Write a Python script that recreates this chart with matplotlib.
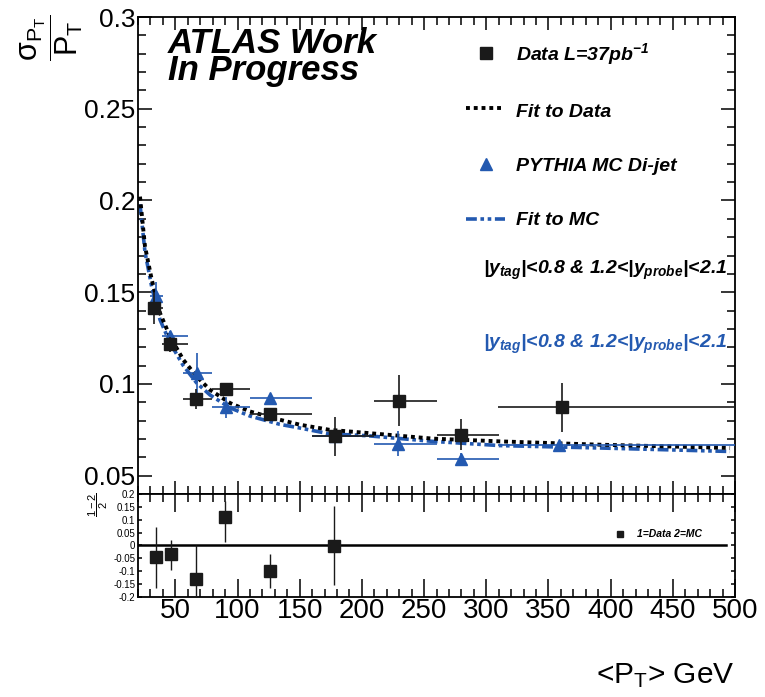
import numpy as np
import matplotlib.pyplot as plt
from matplotlib.ticker import MultipleLocator, FuncFormatter

# Resolution vs <pT>, data and PYTHIA MC
bin_lo = [30, 39.5, 56.4, 79.3, 110, 159.6, 209.7, 260, 309.7]
bin_hi = [40.3, 60.4, 79.3, 110, 159.6, 209.7, 260, 310.2, 500]

pt_data = [33, 46, 67, 90.5, 126, 178, 229.5, 280, 360.5]
sigma_data = [0.1413, 0.1217, 0.0918, 0.0970, 0.0836, 0.0714, 0.0908, 0.0723, 0.0872]
sigma_data_err = [0.0086, 0.0041, 0.0055, 0.0027, 0.002, 0.0108, 0.0139, 0.0084, 0.0135]

pt_mc = [34.5, 45.7, 67.2, 90.5, 126, 178, 228.8, 280, 358.6]
sigma_mc = [0.1477, 0.1259, 0.1059, 0.0872, 0.0923, 0.0716, 0.0674, 0.0593, 0.0669]
sigma_mc_err = [0.0078, 0.003, 0.0109, 0.0055, 0.002, 0.002, 0.0068, 0.003, 0.001]

# fitted curves
fit_x = [21.6, 25.6, 31, 37.7, 45.7, 56.4, 67.2, 77.9, 94, 110, 134, 150, 174, 204, 257, 311, 391, 496]
fit_data = [0.2021, 0.175, 0.157, 0.1386, 0.1259, 0.1132, 0.104, 0.0968, 0.0896, 0.085,
            0.0805, 0.0778, 0.075, 0.0733, 0.0702, 0.0687, 0.0669, 0.0651]
fit_mc = [0.198, 0.172, 0.153, 0.135, 0.1225, 0.110, 0.1005, 0.094, 0.087, 0.0825,
          0.078, 0.076, 0.0728, 0.0718, 0.0687, 0.0664, 0.0651, 0.0632]

# (1-2)/2 ratio panel
pt_ratio = [34.2, 46.3, 66.9, 90.2, 126.1, 177.9]
ratio = [-0.045, -0.035, -0.131, 0.110, -0.098, -0.002]
ratio_err_lo = [0.119, 0.060, 0.131, 0.096, 0.066, 0.153]
ratio_err_hi = [0.117, 0.056, 0.131, 0.062, 0.065, 0.157]

blue = '#2359b0'

plt.rcParams['font.family'] = ['Liberation Sans', 'DejaVu Sans']
plt.rcParams['mathtext.fontset'] = 'custom'
plt.rcParams['mathtext.rm'] = 'Liberation Sans:bold:italic'
plt.rcParams['mathtext.it'] = 'Liberation Sans:bold:italic'
plt.rcParams['mathtext.bf'] = 'Liberation Sans:bold'
plt.rcParams['mathtext.sf'] = 'Liberation Sans'

fig = plt.figure(figsize=(7.65, 6.97), dpi=100)
ax = fig.add_axes([0.1804, 0.2912, 0.7804, 0.6844])
ax2 = fig.add_axes([0.1804, 0.1435, 0.7804, 0.1478])

lo = np.array(bin_lo)
hi = np.array(bin_hi)

# fits
ax.plot(fit_x, fit_mc, color=blue, lw=2.6, dashes=[3, 1, 1, 1, 1, 1], zorder=2)
ax.plot(fit_x, fit_data, color='k', lw=2.8, dashes=[1, 1], zorder=2)

# points
ax.errorbar(pt_mc, sigma_mc, yerr=sigma_mc_err,
            xerr=[np.array(pt_mc) - lo, hi - np.array(pt_mc)],
            fmt='^', color=blue, ms=9, elinewidth=1.2, capsize=0, zorder=3)
ax.errorbar(pt_data, sigma_data, yerr=sigma_data_err,
            xerr=[np.array(pt_data) - lo, hi - np.array(pt_data)],
            fmt='s', color='#1a1a1a', ms=9, elinewidth=1.2, capsize=0, zorder=4)

fmt = FuncFormatter(lambda v, p: '%g' % round(v, 3))

for a in (ax, ax2):
    a.set_xlim(20, 500)
    a.xaxis.set_major_locator(MultipleLocator(50))
    a.xaxis.set_minor_locator(MultipleLocator(10))
    a.tick_params(which='both', direction='in', top=True, right=True, width=1.1)
    for s in a.spines.values():
        s.set_linewidth(1.3)

ax.set_ylim(0.04, 0.3)
ax.yaxis.set_major_locator(MultipleLocator(0.05))
ax.yaxis.set_minor_locator(MultipleLocator(0.01))
ax.yaxis.set_major_formatter(fmt)
ax.tick_params(axis='y', which='major', length=10, labelsize=19, pad=2)
ax.tick_params(axis='y', which='minor', length=5.8)
ax.tick_params(axis='x', which='major', length=9.5, labelbottom=False)
ax.tick_params(axis='x', which='minor', length=5.8)

ax.text(0.05, 0.868, 'ATLAS Work\nIn Progress', transform=ax.transAxes, fontsize=25,
        fontweight='bold', fontstyle='italic', va='baseline', linespacing=0.78)

# legend drawn by hand
leg = dict(transform=ax.transAxes, fontsize=14, fontweight='bold', fontstyle='italic')
ax.plot([0.583], [0.9245], 's', color='#1a1a1a', ms=9, transform=ax.transAxes, clip_on=False)
ax.text(0.633, 0.910, 'Data L=37pb$^{-1}$', **leg)
ax.plot([0.549, 0.610], [0.809, 0.809], color='k', lw=2.8, dashes=[1, 1], transform=ax.transAxes)
ax.text(0.633, 0.791, 'Fit to Data', **leg)
ax.plot([0.583], [0.692], '^', color=blue, ms=9, transform=ax.transAxes, clip_on=False)
ax.text(0.633, 0.678, 'PYTHIA MC Di-jet', **leg)
ax.plot([0.549, 0.615], [0.5765, 0.5765], color=blue, lw=2.6, dashes=[3, 1, 1, 1, 1, 1],
        transform=ax.transAxes)
ax.text(0.633, 0.564, 'Fit to MC', **leg)
cond = r'$|y_{tag}|$<0.8 & 1.2<$|y_{probe}|$<2.1'
ax.text(0.987, 0.461, cond, ha='right', **leg)
ax.text(0.987, 0.306, cond, ha='right', color=blue, **leg)

# ratio panel
ax2.axhline(0, xmax=0.985, color='k', lw=1.8, zorder=1)
ax2.errorbar(pt_ratio, ratio, yerr=[ratio_err_lo, ratio_err_hi], fmt='s',
             color='#1a1a1a', ms=9, elinewidth=1.0, capsize=0, zorder=3)
ax2.set_ylim(-0.2, 0.2)
ax2.yaxis.set_major_locator(MultipleLocator(0.05))
ax2.yaxis.set_major_formatter(fmt)
ax2.tick_params(axis='y', which='major', length=3, labelsize=7, pad=2)
ax2.tick_params(axis='y', which='minor', length=0)
ax2.tick_params(axis='x', which='major', length=13, labelsize=20, pad=1)
ax2.tick_params(axis='x', which='minor', length=6)
ax2.plot([407.5], [0.043], 's', color='#1a1a1a', ms=5)
ax2.text(421, 0.043, '1=Data 2=MC', fontsize=7.5, fontweight='bold', fontstyle='italic',
         va='center')

# axis titles
fig.text(52 / 765, 1 - 38 / 697, r'$\dfrac{\mathsf{\sigma_{P_T}}}{\mathsf{P_T}}$',
         rotation=90, fontsize=22, ha='center', va='center')
fig.text(98 / 765, 1 - 505 / 697, r'$\dfrac{\mathsf{1-2}}{\mathsf{2}}$',
         rotation=90, fontsize=8, ha='center', va='center')
fig.text(735 / 765, 1 - 683 / 697, r'<$\mathsf{P_T}$> GeV', fontsize=21.5,
         ha='right', va='baseline')

fig.savefig('out.png', dpi=100)
